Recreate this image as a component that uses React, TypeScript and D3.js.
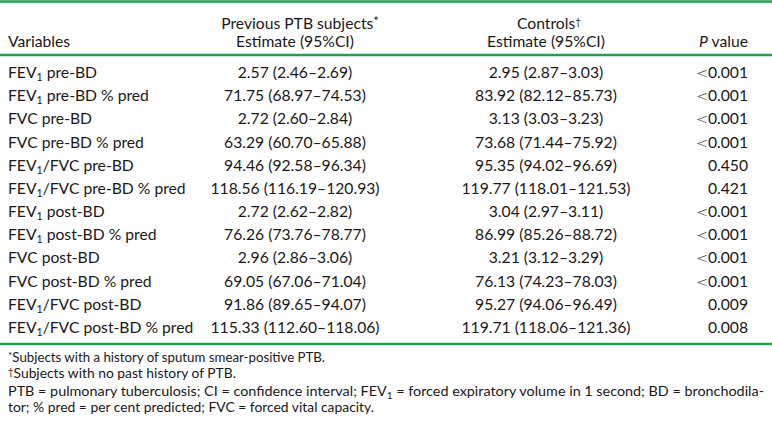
import React from "react";
import * as d3 from "d3";

const variables = [
  "FEV1 pre-BD",
  "FEV1 pre-BD % pred",
  "FVC pre-BD",
  "FVC pre-BD % pred",
  "FEV1/FVC pre-BD",
  "FEV1/FVC pre-BD % pred",
  "FEV1 post-BD",
  "FEV1 post-BD % pred",
  "FVC post-BD",
  "FVC post-BD % pred",
  "FEV1/FVC post-BD",
  "FEV1/FVC post-BD % pred",
];
const ptbEstimate = [2.57, 71.75, 2.72, 63.29, 94.46, 118.56, 2.72, 76.26, 2.96, 69.05, 91.86, 115.33];
const ptbLower = [2.46, 68.97, 2.6, 60.7, 92.58, 116.19, 2.62, 73.76, 2.86, 67.06, 89.65, 112.6];
const ptbUpper = [2.69, 74.53, 2.84, 65.88, 96.34, 120.93, 2.82, 78.77, 3.06, 71.04, 94.07, 118.06];
const ctlEstimate = [2.95, 83.92, 3.13, 73.68, 95.35, 119.77, 3.04, 86.99, 3.21, 76.13, 95.27, 119.71];
const ctlLower = [2.87, 82.12, 3.03, 71.44, 94.02, 118.01, 2.97, 85.26, 3.12, 74.23, 94.06, 118.06];
const ctlUpper = [3.03, 85.73, 3.23, 75.92, 96.69, 121.53, 3.11, 88.72, 3.29, 78.03, 96.49, 121.36];
const pValues = ["<0.001", "<0.001", "<0.001", "<0.001", "0.450", "0.421", "<0.001", "<0.001", "<0.001", "<0.001", "0.009", "0.008"];

const headerPtb = ["Previous PTB subjects", "Estimate (95%CI)"];
const headerCtl = ["Controls", "Estimate (95%CI)"];
const footnotes = [
  "Subjects with a history of sputum smear-positive PTB.",
  "Subjects with no past history of PTB.",
  "PTB = pulmonary tuberculosis; CI = confidence interval; FEV1 = forced expiratory volume in 1 second; BD = bronchodila-",
  "tor; % pred = per cent predicted; FVC = forced vital capacity.",
];

const W = 772;
const H = 423;
const GREEN = "#20a04e";
const INK = "#1a1718";
const FONT = "Lato, 'Open Sans', sans-serif";
const FS = 15.7;

const fmt = d3.format(".2f");

function withSub(s: string, subSize: number, key: string) {
  const parts = s.split("FEV1");
  const out: React.ReactNode[] = [];
  parts.forEach((p, i) => {
    if (i > 0) {
      out.push(<tspan key={key + "f" + i}>FEV</tspan>);
      out.push(
        <tspan key={key + "s" + i} fontSize={subSize} dy={3}>
          1
        </tspan>
      );
      out.push(
        <tspan key={key + "r" + i} dy={-3}>
          {p}
        </tspan>
      );
    } else if (p) {
      out.push(<tspan key={key + "p" + i}>{p}</tspan>);
    }
  });
  return out;
}

function pText(s: string) {
  if (s.startsWith("<")) {
    return (
      <>
        <tspan fontFamily="'DejaVu Sans'" fontSize={14} fontWeight={300}>{"<"}</tspan>
        <tspan>{s.slice(1)}</tspan>
      </>
    );
  }
  return s;
}

export default function App() {
  const y = d3
    .scalePoint<number>()
    .domain(d3.range(variables.length))
    .range([78, 333]);
  const x = d3
    .scaleOrdinal<string, number>()
    .domain(["var", "ptb", "ctl", "p"])
    .range([8, 295, 546, 748]);

  return (
    <svg
      width={W}
      height={H}
      style={{ position: "absolute", left: 0, top: 0, background: "#fff" }}
      fontFamily={FONT}
      fill={INK}
    >
      <rect width={W} height={H} fill="#fff" />
      <line x1={0} x2={W} y1={1.5} y2={1.5} stroke={GREEN} strokeWidth={2.5} />
      <line x1={0} x2={W} y1={55} y2={55} stroke={GREEN} strokeWidth={2.5} />
      <line x1={0} x2={W} y1={344} y2={344} stroke={GREEN} strokeWidth={2.5} />

      <text x={x("var")} y={47} fontSize={FS}>Variables</text>
      <text x={x("ptb") + 5} y={29} fontSize={FS} textAnchor="middle">
        {headerPtb[0]}
        <tspan fontSize={13} dy={-3}>*</tspan>
      </text>
      <text x={x("ptb")} y={47} fontSize={FS} textAnchor="middle">{headerPtb[1]}</text>
      <text x={x("ctl") + 3} y={29} fontSize={FS} textAnchor="middle">
        {headerCtl[0]}
        <tspan fontSize={10} dy={-4}>†</tspan>
      </text>
      <text x={x("ctl")} y={47} fontSize={FS} textAnchor="middle">{headerCtl[1]}</text>
      <text x={x("p")} y={47} fontSize={FS} textAnchor="end">
        <tspan fontStyle="italic">P</tspan> value
      </text>

      {variables.map((v, i) => (
        <g key={v}>
          <text x={x("var")} y={y(i)} fontSize={FS}>
            {withSub(v, 10.5, "v" + i)}
          </text>
          <text x={x("ptb")} y={y(i)} fontSize={FS} textAnchor="middle">
            {`${fmt(ptbEstimate[i])} (${fmt(ptbLower[i])}–${fmt(ptbUpper[i])})`}
          </text>
          <text x={x("ctl")} y={y(i)} fontSize={FS} textAnchor="middle">
            {`${fmt(ctlEstimate[i])} (${fmt(ctlLower[i])}–${fmt(ctlUpper[i])})`}
          </text>
          <text x={x("p")} y={y(i)} fontSize={FS} textAnchor="end">
            {pText(pValues[i])}
          </text>
        </g>
      ))}

      <g fontSize={13}>
        <text x={8} y={362} textLength={317} lengthAdjust="spacingAndGlyphs">
          <tspan fontSize={10} dy={-3}>*</tspan>
          <tspan dy={3}>{footnotes[0]}</tspan>
        </text>
        <text x={8} y={378} textLength={228} lengthAdjust="spacingAndGlyphs">
          <tspan fontSize={9} dy={-3}>†</tspan>
          <tspan dy={3}>{footnotes[1]}</tspan>
        </text>
        <text x={8} y={396} textLength={756} lengthAdjust="spacingAndGlyphs">
          {withSub(footnotes[2], 9, "f2")}
        </text>
        <text x={8} y={412} textLength={366} lengthAdjust="spacingAndGlyphs">
          {footnotes[3]}
        </text>
      </g>
    </svg>
  );
}
